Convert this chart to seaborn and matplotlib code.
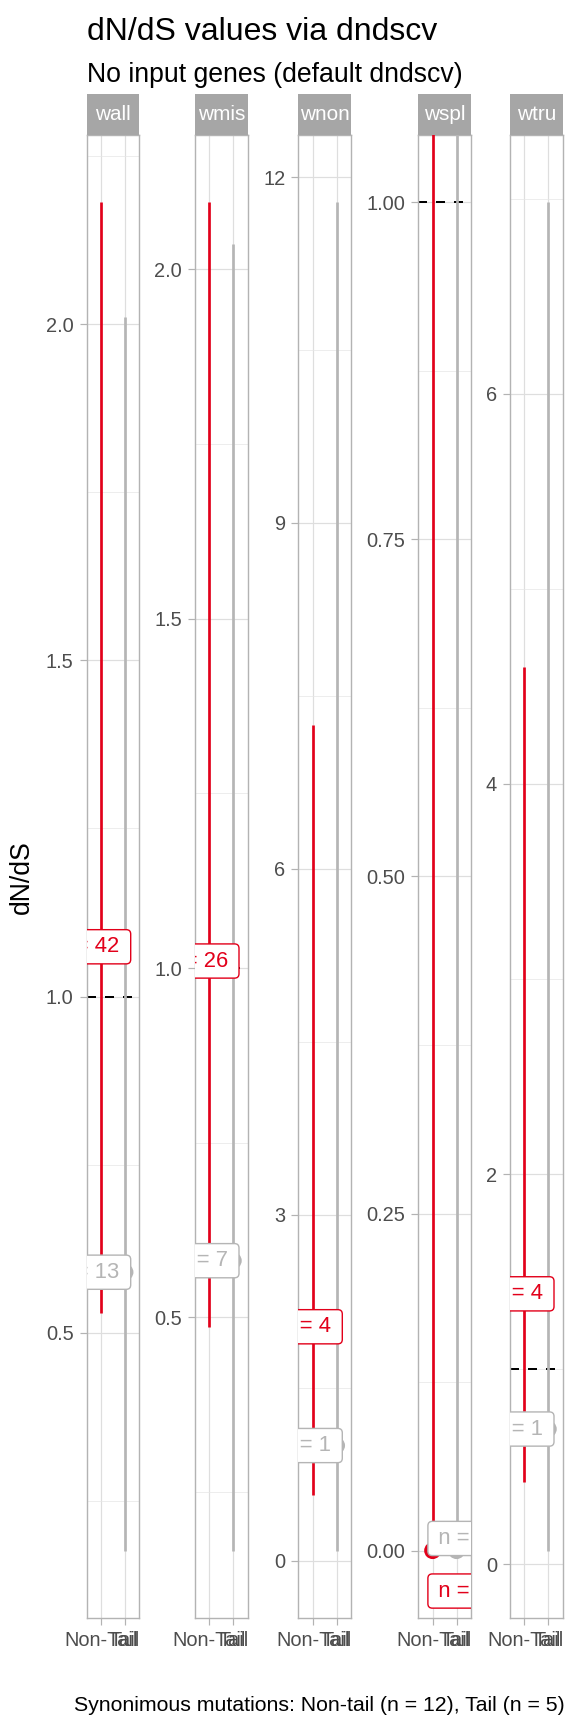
import numpy as np
import pandas as pd
import matplotlib
matplotlib.use("Agg")
import matplotlib.pyplot as plt
import seaborn as sns
from matplotlib import transforms
from matplotlib.ticker import MultipleLocator, FormatStrFormatter, AutoMinorLocator

# dN/dS estimates with confidence intervals, per mutation class
facets = ["wall", "wmis", "wnon", "wspl", "wtru"]
groups = ["Non-Tail", "Tail"]

est_nontail = [1.074, 1.01, 2.03, 0.0, 1.386]
lo_nontail = [0.53, 0.486, 0.57, 0.0, 0.419]
hi_nontail = [2.181, 2.096, 7.245, np.inf, 4.597]
n_nontail = [42, 26, 4, 0, 4]

est_tail = [0.59, 0.581, 1.0, 0.0, 0.693]
lo_tail = [0.176, 0.166, 0.089, 0.0, 0.07]
hi_tail = [2.011, 2.037, 11.78, np.inf, 6.98]
n_tail = [13, 7, 1, 0, 1]

# where the repelled labels ended up
label_y_nontail = [1.074, 1.01, 2.03, -0.030, 1.386]
label_y_tail = [0.59, 0.581, 1.0, 0.009, 0.693]

y_steps = [0.5, 0.5, 3, 0.25, 2]
y_fmt = ["%.1f", "%.1f", "%.0f", "%.2f", "%.0f"]
label_side = ["right", "right", "right", "left", "right"]

rows = []
for i, f in enumerate(facets):
    rows.append(dict(facet=f, group="Non-Tail", x=1, est=est_nontail[i], lo=lo_nontail[i],
                     hi=hi_nontail[i], n=n_nontail[i], label_y=label_y_nontail[i]))
    rows.append(dict(facet=f, group="Tail", x=2, est=est_tail[i], lo=lo_tail[i],
                     hi=hi_tail[i], n=n_tail[i], label_y=label_y_tail[i]))
df = pd.DataFrame(rows)

palette = {"Non-Tail": "#E2001A", "Tail": "#B5B5B5"}

sns.set_theme(style="white")
plt.rcParams['font.family'] = ['Liberation Sans', 'DejaVu Sans']

W, H = 576, 1728
fig = plt.figure(figsize=(4, 12), dpi=144)

panel_left = [86.7, 195.0, 298.3, 418.3, 510.0]
panel_w = 52.6
top, bottom, strip_top = 135.0, 1618.0, 94.3

for i, f in enumerate(facets):
    sub = df[df.facet == f]
    ax = fig.add_axes([panel_left[i] / W, 1 - bottom / H, panel_w / W, (bottom - top) / H])

    vals = np.concatenate([sub.est, sub.lo, sub.hi, [1.0]])
    vals = vals[np.isfinite(vals)]
    vmin, vmax = vals.min(), vals.max()
    pad = (vmax - vmin) * 0.05
    ylo, yhi = vmin - pad, vmax + pad

    ax.axhline(1, color="black", lw=1.0, ls=(0, (4.5, 4.5)), zorder=2)
    ax.vlines(sub.x, sub.lo, np.minimum(sub.hi, yhi + pad), colors=[palette[g] for g in sub.group],
              lw=1.35, zorder=3)
    sns.scatterplot(data=sub, x="x", y="est", hue="group", palette=palette, s=72,
                    linewidth=0, legend=False, ax=ax, zorder=4, clip_on=False)

    for _, r in sub.iterrows():
        col = palette[r.group]
        if label_side[i] == "right":
            tr = transforms.offset_copy(ax.transData, fig=fig, x=-7.6, y=0, units="points")
            xa, ha = 2.6, "right"
        else:
            tr = transforms.offset_copy(ax.transData, fig=fig, x=8.1, y=0, units="points")
            xa, ha = 0.4, "left"
        t = ax.text(xa, r.label_y, f"\u2009n = {r.n}\u2009", transform=tr, ha=ha, va="center",
                    color=col, fontsize=11, zorder=5,
                    bbox=dict(boxstyle="round,pad=0.3,rounding_size=0.2", fc="white", ec=col, lw=0.7))
        t.set_clip_box(ax.bbox)
        t.set_clip_on(True)

    ax.set_xlim(0.4, 2.6)
    ax.set_ylim(ylo, yhi)
    ax.set_xticks([1, 2])
    ax.set_xticklabels(groups)
    ax.yaxis.set_major_locator(MultipleLocator(y_steps[i]))
    ax.yaxis.set_minor_locator(AutoMinorLocator(2))
    ax.yaxis.set_major_formatter(FormatStrFormatter(y_fmt[i]))
    ax.set_xlabel("")
    ax.set_ylabel("")
    ax.set_axisbelow(True)
    ax.grid(which="major", color="#DEDEDE", lw=0.6)
    ax.grid(which="minor", axis="y", color="#E6E6E6", lw=0.35)
    ax.tick_params(which="major", length=3.3, width=0.6, color="#B3B3B3",
                   labelcolor="#4D4D4D", labelsize=10, pad=3.2, left=True, bottom=True)
    ax.tick_params(which="minor", length=0)
    for s in ax.spines.values():
        s.set_color("#B3B3B3")
        s.set_linewidth(0.7)

    sax = fig.add_axes([panel_left[i] / W, 1 - top / H, panel_w / W, (top - strip_top) / H])
    sax.set_facecolor("#A6A6A6")
    sax.set_xticks([])
    sax.set_yticks([])
    for s in sax.spines.values():
        s.set_visible(False)
    sax.text(0.5, 0.5, f, transform=sax.transAxes, ha="center", va="center",
             color="white", fontsize=10.4)

fig.text(86.7 / W, 1 - 40 / H, "dN/dS values via dndscv", fontsize=16, va="baseline",
         ha="left", color="black")
fig.text(86.7 / W, 1 - 82 / H, "No input genes (default dndscv)", fontsize=13.3, va="baseline",
         ha="left", color="black")
fig.text(22 / W, 1 - 877 / H, "dN/dS", fontsize=13.3, rotation=90, ha="center", va="center",
         color="black")
fig.text(565 / W, 1 - 1711 / H, "Synonimous mutations: Non-tail (n = 12), Tail (n = 5)",
         fontsize=10.6, ha="right", va="baseline", color="black")

fig.savefig("out.png", dpi=144)
